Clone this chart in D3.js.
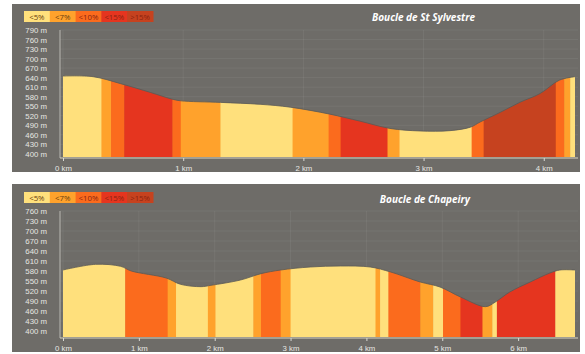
<!DOCTYPE html>
<html>
<head>
<meta charset="utf-8">
<script src="https://cdn.jsdelivr.net/npm/d3@7"></script>
<style>
  body { margin: 0; background: #fff; }
  svg { display: block; font-family: 'Open Sans', sans-serif; }
</style>
</head>
<body>
<script>
/* global d3 */

const gradeLabels = ['<5%', '<7%', '<10%', '<15%', '>15%'];
const gradeColors = ['#ffe07c', '#ffa22c', '#fb6b1d', '#e5351f', '#c6421f'];

// Boucle de St Sylvestre
const sylvKm = [0, 0.25, 0.48, 0.73, 0.90, 0.98, 1.31, 1.64, 1.89, 2.22, 2.47, 2.72, 2.97, 3.22, 3.39, 3.47, 3.64, 3.80, 3.97, 4.13, 4.26];
const sylvElev = [645, 643, 621, 593, 573, 567, 562, 556, 547, 525, 503, 480, 472, 473, 484, 500, 531, 562, 590, 632, 643];
const sylvBreaks = [0, 0.32, 0.40, 0.51, 0.91, 0.98, 1.31, 1.91, 2.21, 2.31, 2.70, 2.80, 3.40, 3.50, 4.10, 4.17, 4.22, 4.26];
const sylvGrades = [0, 1, 2, 3, 2, 1, 0, 1, 2, 3, 1, 0, 2, 4, 2, 1, 0];
const sylvYTicks = [400, 430, 460, 490, 520, 550, 580, 610, 640, 670, 700, 730, 760, 790];
const sylvXTicks = [0, 1, 2, 3, 4];

// Boucle de Chapeiry
const chapKm = [0, 0.43, 0.76, 0.90, 1.36, 1.55, 1.82, 1.95, 2.34, 2.61, 2.87, 3.26, 3.66, 4.05, 4.32, 4.71, 4.97, 5.24, 5.57, 5.70, 5.89, 6.16, 6.42, 6.55, 6.75];
const chapElev = [583, 600, 594, 580, 559, 540, 533, 537, 553, 572, 583, 592, 595, 592, 577, 547, 532, 502, 473, 487, 517, 547, 574, 583, 583];
const chapBreaks = [0, 0.82, 1.38, 1.49, 1.91, 2.01, 2.51, 2.61, 2.87, 3.00, 4.12, 4.18, 4.29, 4.71, 4.88, 5.01, 5.24, 5.53, 5.66, 5.72, 6.49, 6.75];
const chapGrades = [0, 2, 1, 0, 1, 0, 1, 2, 1, 0, 1, 0, 2, 1, 0, 2, 3, 1, 0, 3, 0];
const chapYTicks = [400, 430, 460, 490, 520, 550, 580, 610, 640, 670, 700, 730, 760];
const chapXTicks = [0, 1, 2, 3, 4, 5, 6];

const width = 585;
const height = 354;

const panels = [
  {
    id: 'sylv', title: 'Boucle de St Sylvestre',
    km: sylvKm, elev: sylvElev, breaks: sylvBreaks, grades: sylvGrades,
    yTicks: sylvYTicks, xTicks: sylvXTicks,
    top: 4, bottom: 172, yDomain: [390, 790], yRange: [157, 30], titleX: 475, titleY: 21, legendY: 11,
  },
  {
    id: 'chap', title: 'Boucle de Chapeiry',
    km: chapKm, elev: chapElev, breaks: chapBreaks, grades: chapGrades,
    yTicks: chapYTicks, xTicks: chapXTicks,
    top: 184, bottom: 352, yDomain: [382, 760], yRange: [337, 211], titleX: 470, titleY: 203, legendY: 192,
  },
];

const svg = d3.select('body').append('svg')
  .attr('width', width)
  .attr('height', height);

panels.forEach((p) => {
  const g = svg.append('g');

  g.append('rect')
    .attr('x', 12)
    .attr('y', p.top)
    .attr('width', 568)
    .attr('height', p.bottom - p.top)
    .attr('fill', '#6e6c68');

  const x = d3.scaleLinear()
    .domain([0, d3.max(p.km)])
    .range([63, 575]);

  const y = d3.scaleLinear()
    .domain(p.yDomain)
    .range(p.yRange);

  const points = p.km.map((k, i) => [k, p.elev[i]]);

  // faint grid
  g.selectAll('.hgrid')
    .data(p.yTicks)
    .enter().append('line')
      .attr('x1', 60)
      .attr('x2', 578)
      .attr('y1', d => y(d))
      .attr('y2', d => y(d))
      .attr('stroke', '#ffffff')
      .attr('stroke-opacity', 0.06);

  g.selectAll('.vgrid')
    .data(p.xTicks)
    .enter().append('line')
      .attr('x1', d => x(d))
      .attr('x2', d => x(d))
      .attr('y1', y.range()[1])
      .attr('y2', y.range()[0])
      .attr('stroke', '#ffffff')
      .attr('stroke-opacity', 0.06);

  const curve = d3.curveCatmullRom.alpha(0.5);

  const area = d3.area()
    .x(d => x(d[0]))
    .y0(y.range()[0])
    .y1(d => y(d[1]))
    .curve(curve);

  g.append('clipPath')
    .attr('id', `clip-${p.id}`)
    .append('path')
      .attr('d', area(points));

  const bands = p.grades.map((gr, i) => ({ from: p.breaks[i], to: p.breaks[i + 1], grade: gr }));

  g.append('g')
    .attr('clip-path', `url(#clip-${p.id})`)
    .selectAll('rect')
    .data(bands)
    .enter().append('rect')
      .attr('x', d => x(d.from))
      .attr('width', d => x(d.to) - x(d.from) + 0.5)
      .attr('y', y.range()[1] - 10)
      .attr('height', y.range()[0] - y.range()[1] + 10)
      .attr('fill', d => gradeColors[d.grade]);

  g.append('path')
    .attr('d', d3.line().x(d => x(d[0])).y(d => y(d[1])).curve(curve)(points))
    .attr('fill', 'none')
    .attr('stroke', '#5a5955')
    .attr('stroke-width', 0.8);

  // y axis
  const yAxis = g.append('g')
    .attr('transform', 'translate(60,0)')
    .call(d3.axisLeft(y).tickValues(p.yTicks).tickSize(0).tickPadding(13).tickFormat(d => `${d} m`));
  yAxis.select('.domain')
    .attr('stroke', '#b9b8b2')
    .attr('d', `M0,${y.range()[1]}V${y.range()[0] + 1}`);
  yAxis.selectAll('text')
    .attr('fill', '#e6e6e2')
    .attr('font-size', 7.8);

  // x axis
  const xAxis = g.append('g')
    .attr('transform', `translate(0,${y.range()[0] + 1})`)
    .call(d3.axisBottom(x).tickValues(p.xTicks).tickSize(3).tickPadding(4).tickFormat(d => `${d} km`));
  xAxis.select('.domain')
    .attr('stroke', '#d8d4c0')
    .attr('d', 'M60,0H578');
  xAxis.selectAll('line')
    .attr('stroke', '#d8d8d4');
  xAxis.selectAll('text')
    .attr('fill', '#e6e6e2')
    .attr('font-size', 7.8);

  // legend
  const lx = d3.scaleBand()
    .domain(gradeLabels)
    .range([24, 153]);

  const legend = g.append('g');
  legend.selectAll('rect')
    .data(gradeLabels)
    .enter().append('rect')
      .attr('x', d => lx(d))
      .attr('y', p.legendY)
      .attr('width', lx.bandwidth() + 0.5)
      .attr('height', 11)
      .attr('fill', (d, i) => gradeColors[i]);
  legend.selectAll('text')
    .data(gradeLabels)
    .enter().append('text')
      .attr('x', d => lx(d) + lx.bandwidth() / 2)
      .attr('y', p.legendY + 8.5)
      .attr('text-anchor', 'middle')
      .attr('font-size', 7.8)
      .attr('fill', (d, i) => (i < 2 ? '#6b4010' : '#8a2410'))
      .text(d => d);

  g.append('text')
    .attr('x', p.titleX)
    .attr('y', p.titleY)
    .attr('text-anchor', 'end')
    .attr('font-size', 10)
    .attr('font-weight', 'bold')
    .attr('font-style', 'italic')
    .attr('fill', '#ffffff')
    .text(p.title);
});
</script>
</body>
</html>
